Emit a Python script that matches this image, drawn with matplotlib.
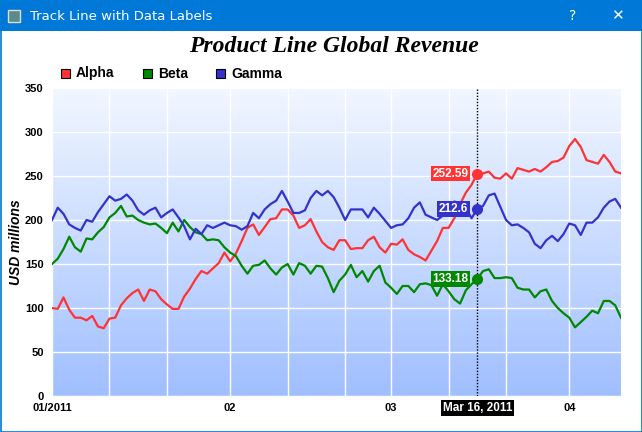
import numpy as np
import matplotlib
matplotlib.use('Agg')
import matplotlib.pyplot as plt
from matplotlib.patches import Rectangle
from matplotlib.transforms import blended_transform_factory

# daily values, Jan 1 2011 .. Apr 10 2011
alpha = [100, 99, 112, 98, 89, 89, 86, 91, 79, 77,
         88, 89, 103, 111, 117, 121, 108, 121, 119, 110,
         104, 99, 99, 113, 122, 133, 142, 139, 145, 151,
         163, 153, 162, 176, 191, 195, 183, 192, 201, 202,
         212, 212, 205, 191, 194, 201, 187, 175, 169, 166,
         177, 177, 167, 168, 168, 177, 181, 169, 163, 173,
         172, 178, 166, 161, 158, 154, 165, 176, 191, 191,
         202, 218, 231, 240, 252.59, 253, 255, 248, 247, 253,
         247, 259, 257, 255, 258, 255, 260, 266, 267, 271,
         284, 292, 283, 268, 266, 264, 274, 266, 255, 253]
beta = [150, 156, 167, 181, 169, 164, 179, 178, 186, 192,
        203, 208, 216, 204, 205, 200, 197, 195, 196, 191,
        185, 197, 187, 200, 192, 186, 184, 177, 178, 177,
        169, 163, 159, 148, 139, 148, 149, 154, 145, 138,
        146, 150, 138, 151, 148, 139, 148, 147, 134, 118,
        131, 138, 149, 135, 142, 130, 142, 148, 129, 123,
        116, 125, 125, 118, 127, 128, 126, 114, 127, 119,
        110, 105, 120, 127, 133.18, 142, 144, 134, 134, 135,
        134, 123, 121, 121, 112, 119, 121, 108, 100, 94,
        89, 78, 84, 90, 97, 94, 108, 108, 103, 89]
gamma = [200, 214, 207, 195, 191, 188, 200, 198, 209, 218,
         227, 222, 224, 229, 222, 211, 206, 211, 214, 203,
         208, 212, 203, 193, 178, 190, 184, 194, 191, 194,
         197, 194, 193, 189, 193, 208, 202, 212, 218, 222,
         233, 221, 208, 208, 211, 225, 233, 228, 233, 226,
         214, 200, 212, 212, 212, 203, 214, 207, 199, 191,
         194, 195, 202, 214, 220, 206, 203, 200, 205, 214,
         221, 219, 214, 202, 212.6, 216, 228, 230, 215, 200,
         194, 195, 191, 186, 173, 168, 177, 182, 176, 184,
         196, 194, 183, 197, 197, 203, 214, 221, 224, 214]
names = ['Alpha', 'Beta', 'Gamma']
colors = ['#ff3333', '#008800', '#3333cc']

grid_days = [0, 10, 20, 31, 41, 51, 59, 69, 79, 90]
month_labels = {0: '01/2011', 31: '02', 59: '03', 90: '04'}
track_day = 74
track_label = 'Mar 16, 2011'

W, H = 642, 432
fig = plt.figure(figsize=(W / 100, H / 100), dpi=100)
fig.patch.set_facecolor('white')

# window chrome
blue = '#0078d7'
fig.patches.append(Rectangle((0, 1 - 31 / H), 1, 31 / H, transform=fig.transFigure,
                             facecolor=blue, edgecolor='none', zorder=0))
fig.patches.append(Rectangle((0.5 / W, 0.5 / H), 1 - 1 / W, 1 - 1 / H, transform=fig.transFigure,
                             facecolor='none', edgecolor=blue, lw=1.2, zorder=5))
fig.patches.append(Rectangle((8 / W, 1 - 22 / H), 12 / W, 12 / H, transform=fig.transFigure,
                             facecolor='#5a8a8a', edgecolor='#dddddd', lw=1, zorder=1))
fig.text(30 / W, 1 - 16 / H, 'Track Line with Data Labels', color='white', fontsize=9.5,
         family='DejaVu Sans', va='center', ha='left')
fig.text(573 / W, 1 - 16 / H, '?', color='white', fontsize=10, family='DejaVu Sans',
         va='center', ha='center')
fig.text(617 / W, 1 - 16 / H, '\u2715', color='white', fontsize=11, family='DejaVu Sans',
         va='center', ha='center')

# title and legend
fig.text(334 / W, 1 - 47 / H, 'Product Line Global Revenue', fontsize=17, family='Liberation Serif',
         weight='bold', style='italic', ha='center', va='center')
leg_x = [61, 143, 216]
for lx, name, c in zip(leg_x, names, colors):
    fig.patches.append(Rectangle((lx / W, 1 - 78 / H), 9 / W, 9 / H, transform=fig.transFigure,
                                 facecolor=c, edgecolor='black', lw=0.8))
    fig.text((lx + 15) / W, 1 - 73.5 / H, name, fontsize=10, family='Liberation Sans',
             weight='bold', ha='left', va='center')

# plot area
left, right, top, bottom = 52, 621, 88, 396
ax = fig.add_axes([left / W, 1 - bottom / H, (right - left) / W, (bottom - top) / H])
days = np.arange(len(alpha))
ax.set_xlim(0, len(alpha) - 1)

grad = np.linspace(0, 1, 256).reshape(-1, 1)
c_top = np.array([0xf2, 0xf7, 0xff]) / 255
c_bot = np.array([0xa0, 0xbf, 0xff]) / 255
img = c_top + (c_bot - c_top) * grad[:, :, None]
ax.imshow(img, extent=[0, len(alpha) - 1, 0, 350], aspect='auto', zorder=0, origin='upper')
ax.set_ylim(0, 350)

for s in ax.spines.values():
    s.set_visible(False)

ax.set_yticks(np.arange(0, 351, 50))
ax.set_xticks(grid_days)
ax.set_xticklabels([month_labels.get(d, '') for d in grid_days])
ax.tick_params(length=0, labelsize=8)
ax.tick_params(axis='y', pad=6)
ax.tick_params(axis='x', pad=5)
for lab in ax.get_xticklabels() + ax.get_yticklabels():
    lab.set_fontweight('bold')
    lab.set_family('Liberation Sans')
ax.grid(True, color='white', lw=1)
ax.set_axisbelow(True)
fig.text(16 / W, 1 - 242 / H, 'USD millions', fontsize=10, weight='bold', style='italic',
         family='Liberation Sans', rotation=90, ha='center', va='center')

for vals, c in zip([alpha, beta, gamma], colors):
    ax.plot(days, vals, color=c, lw=1.6, zorder=3)

# track line
ax.axvline(track_day, color='black', lw=1, ls=(0, (1, 1.2)), zorder=4)
for vals, c in zip([alpha, beta, gamma], colors):
    v = vals[track_day]
    ax.plot(track_day, v, 'o', color=c, ms=7, zorder=5)
    ax.annotate(f'{v:g}', (track_day, v), xytext=(-9, 0), textcoords='offset pixels',
                ha='right', va='center', color='white', fontsize=8.5, weight='bold',
                family='Liberation Sans', zorder=6,
                bbox=dict(boxstyle='square,pad=0.15', fc=c, ec='none'))

trans = blended_transform_factory(ax.transData, ax.transAxes)
ax.text(track_day, -12 / (bottom - top), track_label, transform=trans, ha='center', va='center',
        color='white', fontsize=8.5, weight='bold', family='Liberation Sans',
        bbox=dict(boxstyle='square,pad=0.15', fc='black', ec='none'))

fig.savefig('out.png', dpi=100)
